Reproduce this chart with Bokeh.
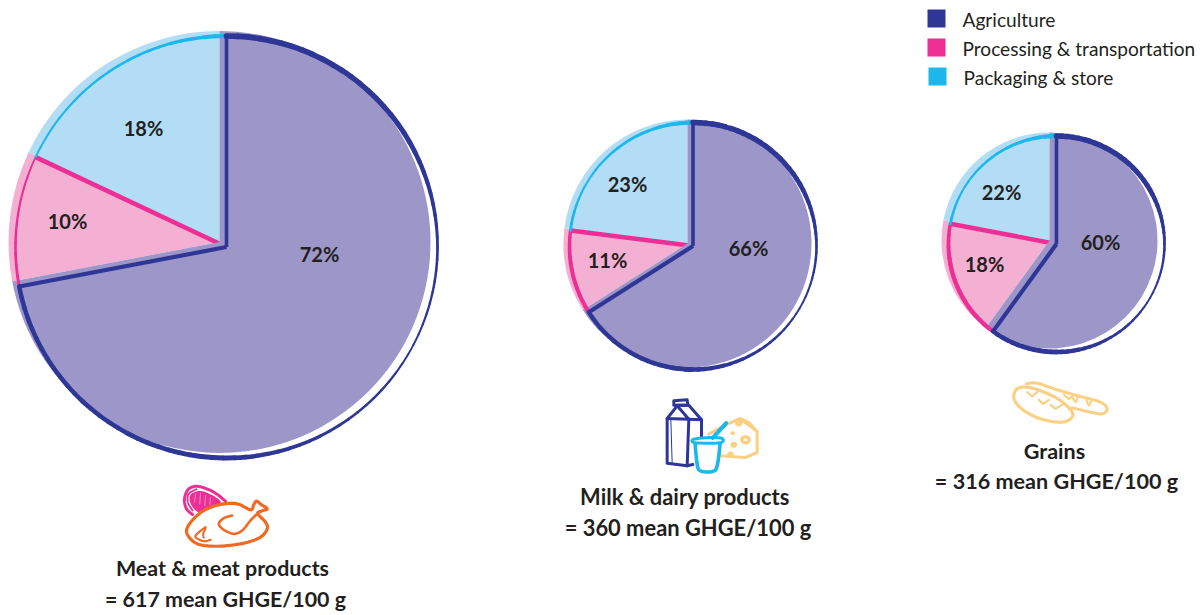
import numpy as np
from bokeh.core.properties import value
from bokeh.embed import file_html
from bokeh.models import Range1d
from bokeh.plotting import figure
from bokeh.resources import INLINE

WIDTH, HEIGHT = 1204, 615

# Share of each stage in a food group's emissions, in percent
categories = ["Meat & meat products", "Milk & dairy products", "Grains"]
ghge_means = [617, 360, 316]
agriculture = [72, 66, 60]
processing = [10, 11, 18]
packaging = [18, 23, 22]
legend_labels = ["Agriculture", "Processing & transportation", "Packaging & store"]

# Geometry of each pie: tinted disc centre, offset outline centre, radii (page pixels)
fill_centres = [(219, 241.5), (687, 243), (1049, 240)]
line_centres = [(226, 246.5), (692.5, 245.5), (1056, 243.5)]
fill_radii = [211, 124, 108]
line_radii = [211, 123.5, 108]
line_scale = [1.25, 1.2, 1.2]
pink_scale = [0.8, 1.1, 1.2]
cyan_scale = [0.95, 1.0, 1.0]

# Percent label centres: agriculture, processing, packaging
pct_positions = [
    [(319, 254), (67, 221), (143, 128)],
    [(748, 248), (607, 260), (627, 184)],
    [(1100, 242), (984, 264), (1001, 192)],
]
# Caption centres: name line, total line
caption_positions = [
    [(222, 568), (225, 599)],
    [(684.5, 497), (687.5, 528)],
    [(1054, 451), (1056, 481)],
]
caption_sizes = ["21.4px", "21.9px", "21.6px"]

DARK = "#2e3796"
PURPLE = "#9d97c9"
PINK = "#ec2e95"
PALE_PINK = "#f4b0d3"
CYAN = "#1cb8ec"
PALE_BLUE = "#b3dcf5"
INK = "#231f20"
ORANGE = "#f26a21"
WHEAT = "#fbd083"
FONT = value("Lato")
TEXT_LIFT = 0.8


def Y(py):
    return HEIGHT - np.asarray(py, dtype=float)


def clock(share_from, share_to):
    """Bokeh start/end angles for a slice given clockwise shares from 12 o'clock."""
    return np.pi / 2 - share_to * 2 * np.pi / 100, np.pi / 2 - share_from * 2 * np.pi / 100


p = figure(width=WIDTH, height=HEIGHT, output_backend="svg", toolbar_location=None,
           x_range=Range1d(0, WIDTH), y_range=Range1d(0, HEIGHT), min_border=0)
p.axis.visible = False
p.grid.visible = False
p.outline_line_color = None
p.background_fill_color = "white"
p.border_fill_color = "white"


def brush_arc(cx, cy, r, s0, s1, color, scale):
    """Outline arc whose stroke swells and thins around the circle like a brush."""
    edges = np.linspace(s0, s1, max(int((s1 - s0) * 1.2), 3) + 1)
    degs = (edges[:-1] + edges[1:]) / 2 * 3.6
    widths = np.interp(degs, [0, 30, 60, 90, 120, 150, 180, 215, 260, 300, 340, 360],
                       [4.6, 4.4, 4.0, 2.2, 1.5, 2.4, 4.0, 3.6, 3.6, 2.0, 3.0, 4.4]) * scale
    start, end = clock(edges[:-1], edges[1:])
    p.arc(x=[cx] * len(widths), y=[Y(cy)] * len(widths), radius=r, start_angle=start,
          end_angle=end, line_color=color, line_width=widths, line_cap="round")


for i in range(3):
    fx, fy = fill_centres[i]
    lx, ly = line_centres[i]
    fr, lr, k = fill_radii[i], line_radii[i], line_scale[i]
    a, b, c = agriculture[i], processing[i], packaging[i]

    # Tinted slices for the two smaller stages
    for s0, s1, tint in [(a, a + b, PALE_PINK), (a + b, 100, PALE_BLUE)]:
        st, en = clock(s0, s1)
        p.wedge(x=[fx], y=[Y(fy)], radius=fr, start_angle=st, end_angle=en,
                fill_color=tint, line_color=None)

    # Radial divider between processing and packaging
    ang = (a + b) * 2 * np.pi / 100
    p.segment(x0=[lx], y0=[Y(ly)], x1=[lx + lr * np.sin(ang)], y1=[Y(ly - lr * np.cos(ang))],
              line_color=PINK, line_width=4.6)

    # Agriculture slice covers the inner ends of the dividers
    st, en = clock(0, a)
    p.wedge(x=[fx], y=[Y(fy)], radius=fr, start_angle=st, end_angle=en,
            fill_color=PURPLE, line_color=None)

    # Offset outlines
    brush_arc(lx, ly, lr, a, a + b, PINK, pink_scale[i])
    brush_arc(lx, ly, lr, a + b, 100, CYAN, cyan_scale[i])
    brush_arc(lx, ly, lr, 0, a, DARK, k)
    end_ang = a * 2 * np.pi / 100
    p.multi_line(xs=[[lx, lx], [lx, lx + lr * np.sin(end_ang)]],
                 ys=[[Y(ly - lr), Y(ly)], [Y(ly), Y(ly - lr * np.cos(end_ang))]],
                 line_color=DARK, line_width=[3.6, 4.2], line_join="miter")

    # Percent labels and captions
    for (tx, ty), v in zip(pct_positions[i], [a, b, c]):
        p.text(x=[tx], y=[Y(ty - TEXT_LIFT)], text=[f"{v}%"], text_font=FONT, text_font_style="bold",
               text_font_size="20px", text_color=INK, text_align="center", text_baseline="middle")
    (nx, ny), (tx, ty) = caption_positions[i]
    p.text(x=[nx], y=[Y(ny - TEXT_LIFT)], text=[categories[i]], text_font=FONT, text_font_style="bold",
           text_font_size=caption_sizes[i], text_color=INK, text_align="center", text_baseline="middle")
    p.text(x=[tx], y=[Y(ty - TEXT_LIFT)], text=[f"= {ghge_means[i]} mean GHGE/100 g"], text_font=FONT,
           text_font_style="bold", text_font_size=caption_sizes[i], text_color=INK,
           text_align="center", text_baseline="middle")

# Legend
legend_x = [927, 927, 928]
legend_y = [18, 47, 76]
for lab, col, sx, sy in zip(legend_labels, [DARK, PINK, CYAN], legend_x, legend_y):
    p.rect(x=[sx + 9], y=[Y(sy)], width=18, height=18, fill_color=col, line_color=None)
    p.text(x=[sx + 35], y=[Y(sy + 2 - TEXT_LIFT)], text=[lab], text_font=FONT, text_font_size="19.1px",
           text_color=INK, text_align="left", text_baseline="middle")


# Hand-drawn food icons, sketched in a 3x grid local to each icon
def smooth(points, closed=False, steps=10):
    pts = np.asarray(points, dtype=float)
    if closed:
        pts = np.vstack([pts[-1], pts, pts[0], pts[1]])
    else:
        pts = np.vstack([pts[0], pts, pts[-1]])
    out = []
    for j in range(1, len(pts) - 2):
        p0, p1, p2, p3 = pts[j - 1], pts[j], pts[j + 1], pts[j + 2]
        for t in np.linspace(0, 1, steps, endpoint=False):
            out.append(0.5 * (2 * p1 + (p2 - p0) * t + (2 * p0 - 5 * p1 + 4 * p2 - p3) * t ** 2
                              + (3 * p1 - p0 - 3 * p2 + p3) * t ** 3))
    out.append(pts[-2])
    return np.array(out)


def stroke(origin, points, color, width, curved=True, closed=False, fill=None):
    path = smooth(points, closed) if curved else np.asarray(points, dtype=float)
    xs = origin[0] + path[:, 0] / 3
    ys = Y(origin[1] + path[:, 1] / 3)
    if fill is not None:
        p.patch(xs, ys, fill_color=fill, line_color=None)
    if width:
        p.line(xs, ys, line_color=color, line_width=width, line_join="round", line_cap="round")


# Meat cut and roast chicken
o = (170, 480)
stroke(o, [(165, 62), (130, 35), (85, 18), (55, 25), (42, 55), (48, 85), (66, 102)], PINK, 3.0)
stroke(o, [(78, 26), (55, 40), (52, 65), (66, 90)], PINK, 1.8)
stroke(o, [(65, 38), (95, 32), (135, 50), (150, 68), (110, 85), (85, 95), (65, 78), (57, 55)], PINK, 0,
       closed=True, fill=PINK)
for seg in [[(75, 40), (72, 65)], [(90, 38), (88, 70)], [(105, 45), (103, 75)], [(120, 52), (118, 72)]]:
    stroke(o, seg, "#f7a8d0", 0.8, curved=False)
chicken = [(250, 72), (258, 62), (272, 72), (290, 85), (272, 92), (262, 100), (285, 125), (290, 145),
           (270, 170), (220, 188), (150, 197), (90, 193), (60, 175), (48, 150), (65, 120), (100, 90),
           (150, 72), (200, 70), (240, 88)]
stroke(o, chicken, ORANGE, 3.2, closed=True, fill="white")
stroke(o, [(185, 105), (160, 113), (145, 130), (160, 148), (190, 160), (215, 150), (240, 120), (268, 92)],
       ORANGE, 2.6)
stroke(o, [(105, 140), (85, 155), (75, 170), (100, 182), (120, 178)], ORANGE, 2.2)
stroke(o, [(105, 145), (98, 160), (100, 172)], ORANGE, 2.0)

# Cheese, milk carton, yoghurt pot
o = (655, 392)
stroke(o, [(160, 125), (215, 95), (255, 78), (280, 90), (305, 118), (305, 180), (270, 195), (190, 190)],
       WHEAT, 3.0, curved=False)
stroke(o, [(255, 80), (305, 118)], WHEAT, 2.6, curved=False)
for cx_, cy_, rad, wid in [(250, 92, 6, 3.4), (270, 142, 11, 3.4), (235, 157, 5, 3.4), (225, 186, 5, 3.4), (232, 122, 3, 2.4)]:
    ring = [(cx_ + rad * np.cos(t), cy_ + rad * 0.8 * np.sin(t)) for t in np.linspace(0, 2 * np.pi, 9)[:-1]]
    stroke(o, ring, WHEAT, wid, closed=True)
for shape in [[(55, 25), (95, 22), (97, 38), (55, 38), (55, 25)],
              [(35, 78), (65, 40), (100, 80), (35, 78)],
              [(65, 38), (100, 38), (138, 82), (100, 80)],
              [(35, 78), (35, 212), (95, 220), (100, 80)],
              [(138, 82), (138, 135)],
              [(95, 220), (112, 216)]]:
    stroke(o, shape, DARK, 3.0, curved=False)
stroke(o, [(46, 80), (50, 213)], DARK, 1.0, curved=False)
stroke(o, [(118, 145), (125, 215), (135, 235), (170, 237), (185, 220), (195, 145)], CYAN, 3.6, fill="white")
stroke(o, [(115, 140), (165, 135), (200, 138), (197, 150), (155, 152), (115, 150)], CYAN, 3.0, closed=True, fill="white")
stroke(o, [(172, 136), (212, 92)], CYAN, 4.2, curved=False)

# Two bread loaves
o = (1000, 370)
stroke(o, [(78, 40), (110, 38), (170, 58), (240, 78), (300, 95), (320, 115), (305, 130), (270, 125), (215, 112)],
       WHEAT, 3.0)
stroke(o, [(40, 75), (50, 55), (80, 50), (130, 65), (180, 90), (215, 125), (210, 145), (180, 155), (120, 145),
           (70, 120), (45, 95)], WHEAT, 3.2, closed=True, fill="white")
for mark in [[(80, 65), (95, 78), (110, 65)], [(115, 88), (128, 100), (145, 88)], [(150, 103), (165, 115), (185, 103)],
             [(190, 72), (205, 85), (218, 75)], [(215, 80), (225, 95), (232, 82)], [(258, 90), (265, 105), (272, 92)]]:
    stroke(o, mark, WHEAT, 2.2, curved=False)

open("out.html", "w").write(file_html(p, INLINE))
